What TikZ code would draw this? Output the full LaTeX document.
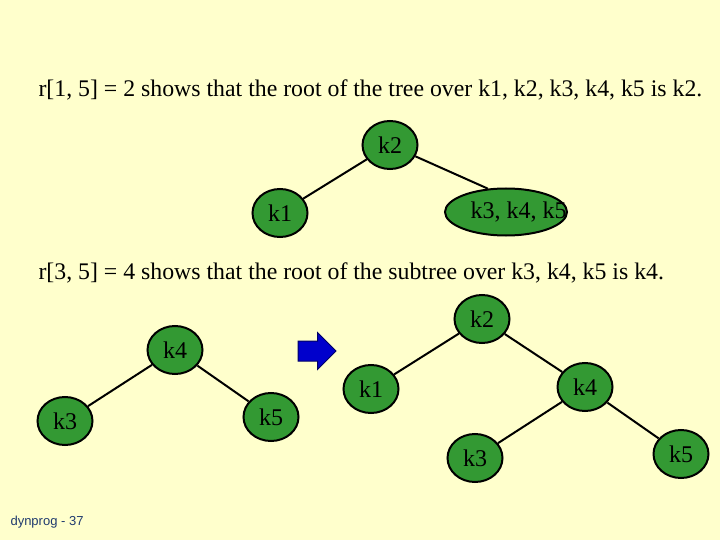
\documentclass[tikz,border=0pt]{standalone}
\usepackage{fontspec}
\setmainfont{Liberation Serif}
\newfontfamily\footfont{Liberation Sans}
\usetikzlibrary{positioning,shapes.geometric,shapes.arrows}

\definecolor{slidebg}{HTML}{FFFFCC}
\definecolor{keygreen}{HTML}{339933}
\definecolor{arrblue}{HTML}{0000CC}
\definecolor{footblue}{HTML}{1F3A6E}

\begin{document}
\begin{tikzpicture}[
    x=1pt, y=-1pt,
    every node/.style={font=\fontsize{23.8}{28}\selectfont},
    key/.style={ellipse, draw=black, line width=2pt, fill=keygreen,
                minimum width=55pt, minimum height=48pt, inner sep=0pt,
                font=\fontsize{24}{28}\selectfont},
    edge/.style={draw, line width=2pt},
]
    \fill[slidebg] (0,0) rectangle (720,540);
    \useasboundingbox (0,0) rectangle (720,540);

    %% first statement and its tree
    \node[anchor=base west] (rootall) at (35,97)
        {r[1, 5] = 2 shows that the root of the tree over k1, k2, k3, k4, k5 is k2.};
    \node[key] (ta2) at (390,145) {k2};
    \node[key] (ta1) at (280,213) {k1};
    \node[key, minimum width=122pt, minimum height=47pt,
          label={[xshift=12.5pt, font=\fontsize{24}{28}\selectfont]center:k3, k4, k5}]
        (tarest) at (506,212) {};
    \draw[edge] (ta2) -- (ta1);
    \draw[edge] (ta2) -- (tarest.128);

    %% second statement
    \node[anchor=base west] (rootsub) at (35,279)
        {r[3, 5] = 4 shows that the root of the subtree over k3, k4, k5 is k4.};

    %% subtree on the left
    \node[key] (sb4) at (175,350) {k4};
    \node[key] (sb3) at (65,421) {k3};
    \node[key] (sb5) at (271,417) {k5};
    \draw[edge] (sb4) -- (sb3);
    \draw[edge] (sb4) -- (sb5);

    %% arrow
    \node[single arrow, draw=blue!40!black, fill=arrblue, line width=1pt,
          minimum height=38pt, minimum width=36pt, inner xsep=0pt, inner ysep=9.5pt,
          single arrow head extend=8.5pt, anchor=tail] (goes) at (297.5,351) {};

    %% whole tree on the right
    \node[key] (tc2) at (482,319) {k2};
    \node[key] (tc1) at (371,389) {k1};
    \node[key] (tc4) at (585,387) {k4};
    \node[key] (tc3) at (475,458) {k3};
    \node[key] (tc5) at (681,454) {k5};
    \draw[edge] (tc2) -- (tc1);
    \draw[edge] (tc2) -- (tc4);
    \draw[edge] (tc4) -- (tc3);
    \draw[edge] (tc4) -- (tc5);

    %% footer
    \node[anchor=base west, text=footblue, font=\footfont\fontsize{13}{15}\selectfont]
        (foot) at (7,525) {dynprog - 37};
\end{tikzpicture}
\end{document}
